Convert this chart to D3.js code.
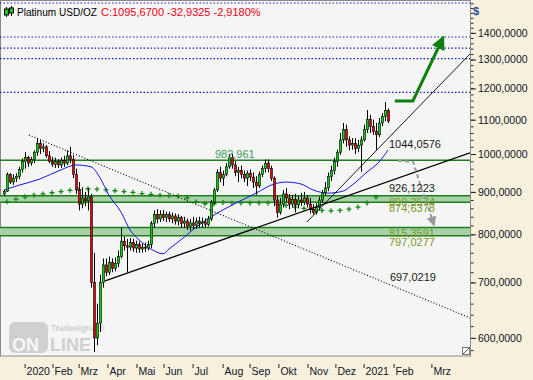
<!DOCTYPE html>
<html><head><meta charset="utf-8">
<script src="https://cdn.jsdelivr.net/npm/d3@7"></script>
<style>
html,body{margin:0;padding:0;background:#f6f0dc;}
svg{display:block;font-family:"Liberation Sans",Arial,sans-serif;}
</style></head><body>
<svg id="c" width="533" height="380"></svg>
<script>
// ---------- data ----------
const opens  = [895,902,945,925,935,940,958,980,990,975,985,1005,1030,1015,1020,995,980,972,980,970,982,975,995,985,945,905,870,885,878,888,700,600,625,700,735,720,740,728,738,752,785,775,772,782,770,778,768,772,770,778,825,845,835,845,838,845,835,842,830,838,825,830,818,826,820,830,825,828,822,835,875,905,950,935,945,965,990,970,950,955,945,935,948,938,925,915,945,960,975,960,935,880,850,870,895,885,870,882,868,880,875,885,870,858,850,862,880,898,910,940,955,980,1005,1040,1070,1040,1025,1030,1015,1025,1040,1070,1100,1080,1065,1055,1090,1110,1128.6];
const highs  = [905,950,948,945,948,965,988,1005,995,992,1010,1045,1040,1030,1025,1008,992,990,985,990,995,1010,1020,998,960,925,912,900,908,895,760,660,715,748,748,752,748,750,765,816,795,790,792,790,786,784,780,782,786,830,855,858,855,856,852,852,850,848,846,842,840,836,835,840,838,840,838,836,842,880,910,958,965,955,975,1000,1000,980,965,968,955,955,958,950,940,952,968,985,985,968,940,890,885,905,910,895,892,895,890,898,900,892,885,870,872,888,905,925,950,968,990,1012,1060,1090,1085,1050,1045,1045,1040,1050,1085,1130,1115,1100,1090,1105,1120,1155,1135];
const lows   = [890,900,920,918,925,932,950,960,965,968,975,995,1000,1005,990,975,965,962,962,962,965,970,975,935,895,855,860,865,855,690,577,588,610,690,712,715,720,722,730,748,765,720,765,762,760,760,760,762,765,770,815,825,828,830,828,828,825,822,820,815,815,810,808,812,812,815,815,815,818,830,870,900,925,915,940,960,960,940,925,935,925,915,928,910,893,910,938,950,950,928,865,838,845,862,875,858,862,850,860,866,868,862,848,845,845,855,872,890,902,928,945,965,998,1030,1020,1010,1012,1000,1005,952,1035,1060,1060,1055,1012,1048,1080,1095,1090];
const closes = [902,945,925,935,940,958,980,990,975,985,1005,1030,1015,1020,995,980,972,980,970,982,975,995,985,945,905,870,885,878,888,700,600,625,700,735,720,740,728,738,752,785,775,772,782,770,778,768,772,770,778,825,845,835,845,838,845,835,842,830,838,825,830,818,826,820,830,825,828,822,835,875,905,950,935,945,965,990,970,950,955,945,935,948,938,925,915,945,960,975,960,935,880,850,870,895,885,870,882,868,880,875,885,870,858,850,862,880,898,910,940,955,980,1005,1040,1070,1040,1025,1030,1015,1025,1040,1070,1100,1080,1065,1055,1090,1110,1128.6,1095.67];

const monthLabels   = ["2020","Feb","Mrz","Apr","Mai","Jun","Jul","Aug","Sep","Okt","Nov","Dez","2021","Feb","Mrz"];
const monthTickBars = [6.7,16,24.7,34.3,44,53,62.7,72.7,81.7,91.3,101,110.3,119.7,129.7,142.3];
const priceTicks    = [600,700,800,900,1000,1100,1200,1300,1400];
const priceDomain   = [570.6,1533.8];
const barDomain     = [-1,155.667];

// blue moving average
const maBars = [0,5,12,19,24,29,32,35,39,42,45,49,53,55,59,65,70,78,84,90,94,99,103,108,113,116,121,125,128];
const maVals = [905,917,933,957,970,965,936,892,851,810,788,768,758,768,788,821,844,875,897,920,925,920,905,897,902,917,951,978,1011];
// long average drawn with "+" markers
const lmaBars = [1,4,7,10,13,16,19,22,25,28,31,34,37,40,43,46,49,52,55,58,61,64,67,70,73,76,79,82,85,88,91,94,97,100,103,106,109,112,115,118,121,124];
const lmaVals = [876,882,888,892,895,898,901,904,906,908,907,905,903,901,899,896,894,892,891,890,885,876,871,871,874,873,873,873,873,873,870,867,863,860,857,855,854,855,858,863,873,887];

const resistLevel  = 982.961;
const zoneBands    = [[874.6378,890.3574],[797.0277,815.3591]];
const targetLevels = [1521,1384,1342,1303,1187];

const trendDotted = [[8.3,1054],[128,697.0219]];
const trendLong   = [[33.7,703],[128,926.1223]];
const trendSteep  = [[101,828],[128,1044.0576]];

const greenArrowPts = [[130.3,1159],[136.3,1159],[146.3,1380]];
const grayArrowPts  = [[131.3,981],[136.3,978],[137,962],[139.3,905],[141.7,856],[143.3,822]];

const trendLabelVals = [1044.0576,926.1223];
const zoneLabelVals  = [890.3574,874.6378,815.3591,797.0277];
const dottedLabelVal = 697.0219;

// ---------- drawing ----------
const svg = d3.select("#c");
const W = 470, H = 356;
const x = d3.scaleLinear().domain(barDomain).range([1,471]);
const y = d3.scaleLog().domain(priceDomain).range([H,0]);
const fmt = v => d3.format(".4f")(v).replace(".",",");

svg.append("defs").append("clipPath").attr("id","clip")
  .append("rect").attr("x",0).attr("y",0).attr("width",W).attr("height",H);
const defs = svg.select("defs");
defs.append("marker").attr("id","ag").attr("markerUnits","userSpaceOnUse")
  .attr("markerWidth",14).attr("markerHeight",14).attr("refX",8).attr("refY",5)
  .attr("orient","auto").attr("viewBox","0 0 10 10")
  .append("path").attr("d","M0,0L10,5L0,10z").attr("fill","#0c800c");
defs.append("marker").attr("id","ay").attr("markerUnits","userSpaceOnUse")
  .attr("markerWidth",10).attr("markerHeight",10).attr("refX",8).attr("refY",5)
  .attr("orient","auto").attr("viewBox","0 0 10 10")
  .append("path").attr("d","M0,0L10,5L0,10z").attr("fill","#999");

svg.append("rect").attr("x",0.5).attr("y",0.5).attr("width",W).attr("height",H-0.5)
  .attr("fill","#f5f5f5").attr("stroke","#8a8a8a");

const g = svg.append("g").attr("clip-path","url(#clip)");

// watermark
const wm = g.append("g").attr("opacity",0.9);
wm.append("rect").attr("x",9).attr("y",322).attr("width",39).attr("height",31).attr("rx",6).attr("fill","#cdcdcd");
wm.append("text").attr("x",12).attr("y",351).attr("font-size",18).attr("font-weight","bold").attr("fill","#f7f7f7").text("ON");
wm.append("text").attr("x",50).attr("y",351).attr("font-size",18).attr("font-weight","bold").attr("fill","#cdcdcd").text("LINE");
wm.append("text").attr("x",51).attr("y",331).attr("font-size",8.5).attr("font-weight","bold").attr("fill","#cdcdcd").text("Tradesignal®");

// zone bands
zoneBands.forEach(b=>{
  g.append("rect").attr("x",0).attr("width",W).attr("y",y(b[1])).attr("height",y(b[0])-y(b[1]))
    .attr("fill","#a8d1a8");
  b.forEach(v=>g.append("line").attr("x1",0).attr("x2",W).attr("y1",y(v)).attr("y2",y(v))
    .attr("stroke","#1f7f1f").attr("stroke-width",1.5));
});
g.append("line").attr("x1",0).attr("x2",W).attr("y1",y(resistLevel)).attr("y2",y(resistLevel))
  .attr("stroke","#1f7f1f").attr("stroke-width",1.5);

// target levels (blue dotted)
targetLevels.forEach(v=>g.append("line").attr("x1",0).attr("x2",W).attr("y1",y(v)).attr("y2",y(v))
  .attr("stroke","#1020c8").attr("stroke-width",1.2).attr("stroke-dasharray","1.5,2"));

// "+" markers
g.selectAll(".plus").data(lmaBars).enter().append("path")
  .attr("transform",(d,i)=>`translate(${x(d)},${y(lmaVals[i])})`)
  .attr("d","M-2.5,0H2.5M0,-2.5V2.5").attr("stroke","#118a11").attr("stroke-width",1.3);

// blue MA
g.append("path").datum(maBars.map((b,i)=>[b,maVals[i]]))
  .attr("d",d3.line().x(d=>x(d[0])).y(d=>y(d[1])).curve(d3.curveMonotoneX))
  .attr("fill","none").attr("stroke","#1515e8").attr("stroke-width",1);

// candles
const idx = d3.range(closes.length);
const cg = g.append("g");
cg.selectAll(".w").data(idx).enter().append("line")
  .attr("x1",i=>Math.round(x(i))+0.5).attr("x2",i=>Math.round(x(i))+0.5)
  .attr("y1",i=>y(highs[i])).attr("y2",i=>y(lows[i])).attr("stroke","#000").attr("stroke-width",1);
cg.selectAll(".b").data(idx).enter().append("rect")
  .attr("x",i=>Math.round(x(i))-0.5).attr("width",2)
  .attr("y",i=>y(Math.max(opens[i],closes[i])))
  .attr("height",i=>Math.max(1,Math.abs(y(opens[i])-y(closes[i]))))
  .attr("fill",i=>closes[i]>=opens[i]?"#00d200":"#e80000")
  .attr("stroke","#000").attr("stroke-width",0.6);

// trend lines
const xEnd = x.invert(W);
function tlPts(t){
  const [a,b]=t, k=(Math.log(b[1])-Math.log(a[1]))/(b[0]-a[0]);
  return [a,[xEnd,Math.exp(Math.log(a[1])+k*(xEnd-a[0]))]];
}
const tline = d3.line().x(d=>x(d[0])).y(d=>y(d[1]));
g.append("path").attr("d",tline(tlPts(trendDotted))).attr("stroke","#000").attr("stroke-width",1.1)
  .attr("stroke-dasharray","1,2").attr("fill","none");
g.append("path").attr("d",tline(tlPts(trendLong))).attr("stroke","#000").attr("stroke-width",1.3).attr("fill","none");
g.append("path").attr("d",tline(tlPts(trendSteep))).attr("stroke","#000").attr("stroke-width",0.9).attr("fill","none");

// arrows
g.append("path").attr("d",tline(greenArrowPts)).attr("fill","none").attr("stroke","#0c800c")
  .attr("stroke-width",3).attr("marker-end","url(#ag)");
g.append("path").attr("d",d3.line().x(d=>x(d[0])).y(d=>y(d[1])).curve(d3.curveMonotoneY)(grayArrowPts))
  .attr("fill","none").attr("stroke","#9a9a9a").attr("stroke-width",2).attr("stroke-dasharray","4,3")
  .attr("marker-end","url(#ay)");

// labels
const lx = x(128)+1;
g.append("text").attr("x",x(70.3)).attr("y",y(resistLevel)-2).attr("font-size",11).attr("fill","#3f9a5a").text(fmt(resistLevel).replace(/0+$/,""));
trendLabelVals.forEach(v=>g.append("text").attr("x",lx).attr("y",y(v)+10).attr("font-size",11).attr("fill","#1a1a1a").text(fmt(v)));
zoneLabelVals.forEach(v=>g.append("text").attr("x",lx).attr("y",y(v)+10).attr("font-size",11).attr("fill","#789a2c").text(fmt(v)));
g.append("text").attr("x",lx+1).attr("y",y(dottedLabelVal)-3).attr("font-size",11).attr("fill","#1a1a1a").text(fmt(dottedLabelVal));

// resize grip
svg.append("rect").attr("x",462.5).attr("y",347.5).attr("width",7).attr("height",7).attr("fill","#fff").attr("stroke","#777");
svg.append("line").attr("x1",463).attr("y1",354).attr("x2",469).attr("y2",348).attr("stroke","#555");

// header
const hi = svg.append("g");
[[6,7,17,9,15],[11,6,16,8,13]].forEach(c=>{
  hi.append("line").attr("x1",c[0]+0.5).attr("x2",c[0]+0.5).attr("y1",c[1]).attr("y2",c[2]).attr("stroke","#000");
  hi.append("rect").attr("x",c[0]-1.5).attr("y",c[3]).attr("width",4).attr("height",c[4]-c[3]).attr("fill","#10d010").attr("stroke","#000");
});
svg.append("text").attr("x",17).attr("y",16).attr("font-size",11).attr("textLength",80).attr("lengthAdjust","spacingAndGlyphs").attr("fill","#000").text("Platinum USD/OZ");
svg.append("text").attr("x",101).attr("y",16).attr("font-size",11).attr("fill","#f0001a").text("C:1095,6700 -32,9325 -2,9180%");

// right axis
const minorTicks = d3.range(580,1540,20);
const ax = svg.append("g").attr("transform","translate(471,0)");
ax.call(d3.axisRight(y).tickValues(minorTicks).tickSize(2.5).tickFormat(""));
ax.append("g").call(d3.axisRight(y).tickValues(priceTicks).tickSize(5).tickPadding(2).tickFormat(d=>fmt(d)));
ax.selectAll(".domain").remove();
ax.selectAll("line").attr("stroke","#222");
ax.selectAll("text").attr("font-size",10.5).attr("fill","#141428").attr("font-family","Liberation Sans, Arial, sans-serif");
svg.append("text").attr("x",473).attr("y",15).attr("font-size",11).attr("font-weight","bold").attr("fill","#2b4a9c").text("$");

// bottom axis
const bx = svg.append("g").attr("transform","translate(0,364)");
bx.call(d3.axisBottom(x).tickValues(monthTickBars).tickSize(4).tickFormat((d,i)=>monthLabels[i]));
bx.select(".domain").remove();
bx.selectAll("line").attr("stroke","#222").attr("transform","translate(0.5,0)");
bx.selectAll("text").attr("text-anchor","start").attr("x",2).attr("y",4).attr("dy","0.71em")
  .attr("font-size",10.5).attr("fill","#141428").attr("font-family","Liberation Sans, Arial, sans-serif");
</script></body></html>
